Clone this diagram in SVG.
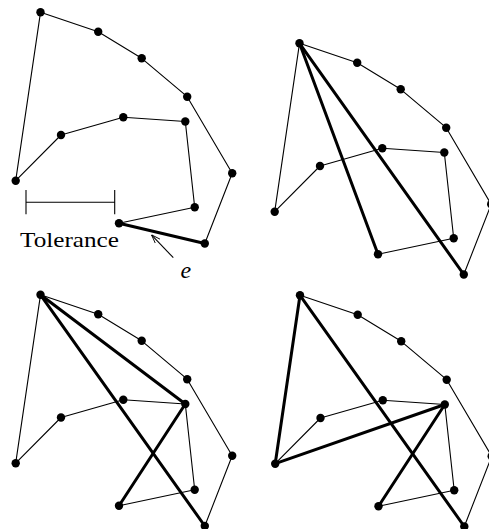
<svg xmlns="http://www.w3.org/2000/svg" width="489" height="529" viewBox="0 0 489 529">
<defs>
<style>
.thin{fill:none;stroke:#000;stroke-width:1.1;stroke-linejoin:round}
.thick{fill:none;stroke:#000;stroke-width:3;stroke-linecap:round}
.dot{fill:#000}
.lbl{font-family:"Liberation Serif","Times New Roman",serif;fill:#000}
</style>
<marker id="open" viewBox="0 0 10 10" refX="10" refY="5" markerWidth="9" markerHeight="9" markerUnits="userSpaceOnUse" orient="auto">
<path d="M0,1.5 L10,5 L0,8.5" fill="none" stroke="#000" stroke-width="1"/>
</marker>
</defs>
<rect width="489" height="529" fill="#fff"/>

<!-- Panel 1 -->
<g id="panel1">
<g id="p1-connectors">
<polyline class="thin" points="119,223.3 194.7,207.3 185.3,121.5 123.3,117.3 61,135 15.7,180.7 40.5,12.3 98.2,31.7 141.7,58.3 187.2,96.7 232.2,173.3 204.8,243.5"/>
<line class="thick" x1="119" y1="223.3" x2="204.8" y2="243.5"/>
</g>
<g id="p1-n1"><circle class="dot" cx="40.5" cy="12.3" r="4.2"/></g>
<g id="p1-n2"><circle class="dot" cx="98.2" cy="31.7" r="4.2"/></g>
<g id="p1-n3"><circle class="dot" cx="141.7" cy="58.3" r="4.2"/></g>
<g id="p1-n4"><circle class="dot" cx="187.2" cy="96.7" r="4.2"/></g>
<g id="p1-n5"><circle class="dot" cx="232.2" cy="173.3" r="4.2"/></g>
<g id="p1-n6"><circle class="dot" cx="204.8" cy="243.5" r="4.2"/></g>
<g id="p1-n7"><circle class="dot" cx="119" cy="223.3" r="4.2"/></g>
<g id="p1-n8"><circle class="dot" cx="194.7" cy="207.3" r="4.2"/></g>
<g id="p1-n9"><circle class="dot" cx="185.3" cy="121.5" r="4.2"/></g>
<g id="p1-n10"><circle class="dot" cx="123.3" cy="117.3" r="4.2"/></g>
<g id="p1-n11"><circle class="dot" cx="61" cy="135" r="4.2"/></g>
<g id="p1-n12"><circle class="dot" cx="15.7" cy="180.7" r="4.2"/></g>
<g id="tolerance">
<path class="thin" d="M26,202.3 H114.7 M26,190 V214.3 M114.7,190 V214.3"/>
<text class="lbl" x="20" y="246.7" font-size="22" textLength="99" lengthAdjust="spacingAndGlyphs">Tolerance</text>
</g>
<g id="edge-label">
<line class="thin" x1="173.3" y1="257.7" x2="151.5" y2="234.8" marker-end="url(#open)"/>
<text class="lbl" x="180.5" y="278" font-size="24" font-style="italic">e</text>
</g>
</g>

<!-- Panel 2 -->
<g id="panel2" transform="translate(259,31)">
<g id="p2-connectors">
<polyline class="thin" points="204.8,243.5 232.2,173.3 187.2,96.7 141.7,58.3 98.2,31.7 40.5,12.3 15.7,180.7 61,135 123.3,117.3 185.3,121.5 194.7,207.3 119,223.3"/>
<line class="thick" x1="40.5" y1="12.3" x2="119" y2="223.3"/>
<line class="thick" x1="40.5" y1="12.3" x2="204.8" y2="243.5"/>
</g>
<g id="p2-n1"><circle class="dot" cx="40.5" cy="12.3" r="4.2"/></g>
<g id="p2-n2"><circle class="dot" cx="98.2" cy="31.7" r="4.2"/></g>
<g id="p2-n3"><circle class="dot" cx="141.7" cy="58.3" r="4.2"/></g>
<g id="p2-n4"><circle class="dot" cx="187.2" cy="96.7" r="4.2"/></g>
<g id="p2-n5"><circle class="dot" cx="232.2" cy="173.3" r="4.2"/></g>
<g id="p2-n6"><circle class="dot" cx="204.8" cy="243.5" r="4.2"/></g>
<g id="p2-n7"><circle class="dot" cx="119" cy="223.3" r="4.2"/></g>
<g id="p2-n8"><circle class="dot" cx="194.7" cy="207.3" r="4.2"/></g>
<g id="p2-n9"><circle class="dot" cx="185.3" cy="121.5" r="4.2"/></g>
<g id="p2-n10"><circle class="dot" cx="123.3" cy="117.3" r="4.2"/></g>
<g id="p2-n11"><circle class="dot" cx="61" cy="135" r="4.2"/></g>
<g id="p2-n12"><circle class="dot" cx="15.7" cy="180.7" r="4.2"/></g>
</g>

<!-- Panel 3 -->
<g id="panel3" transform="translate(0,282.5)">
<g id="p3-connectors">
<polyline class="thin" points="204.8,243.5 232.2,173.3 187.2,96.7 141.7,58.3 98.2,31.7 40.5,12.3 15.7,180.7 61,135 123.3,117.3 185.3,121.5 194.7,207.3 119,223.3"/>
<line class="thick" x1="40.5" y1="12.3" x2="185.3" y2="121.5"/>
<line class="thick" x1="185.3" y1="121.5" x2="119" y2="223.3"/>
<line class="thick" x1="40.5" y1="12.3" x2="204.8" y2="243.5"/>
</g>
<g id="p3-n1"><circle class="dot" cx="40.5" cy="12.3" r="4.2"/></g>
<g id="p3-n2"><circle class="dot" cx="98.2" cy="31.7" r="4.2"/></g>
<g id="p3-n3"><circle class="dot" cx="141.7" cy="58.3" r="4.2"/></g>
<g id="p3-n4"><circle class="dot" cx="187.2" cy="96.7" r="4.2"/></g>
<g id="p3-n5"><circle class="dot" cx="232.2" cy="173.3" r="4.2"/></g>
<g id="p3-n6"><circle class="dot" cx="204.8" cy="243.5" r="4.2"/></g>
<g id="p3-n7"><circle class="dot" cx="119" cy="223.3" r="4.2"/></g>
<g id="p3-n8"><circle class="dot" cx="194.7" cy="207.3" r="4.2"/></g>
<g id="p3-n9"><circle class="dot" cx="185.3" cy="121.5" r="4.2"/></g>
<g id="p3-n10"><circle class="dot" cx="123.3" cy="117.3" r="4.2"/></g>
<g id="p3-n11"><circle class="dot" cx="61" cy="135" r="4.2"/></g>
<g id="p3-n12"><circle class="dot" cx="15.7" cy="180.7" r="4.2"/></g>
</g>

<!-- Panel 4 -->
<g id="panel4" transform="translate(259.5,283)">
<g id="p4-connectors">
<polyline class="thin" points="204.8,243.5 232.2,173.3 187.2,96.7 141.7,58.3 98.2,31.7 40.5,12.3 15.7,180.7 61,135 123.3,117.3 185.3,121.5 194.7,207.3 119,223.3"/>
<line class="thick" x1="40.5" y1="12.3" x2="15.7" y2="180.7"/>
<line class="thick" x1="15.7" y1="180.7" x2="185.3" y2="121.5"/>
<line class="thick" x1="185.3" y1="121.5" x2="119" y2="223.3"/>
<line class="thick" x1="40.5" y1="12.3" x2="204.8" y2="243.5"/>
</g>
<g id="p4-n1"><circle class="dot" cx="40.5" cy="12.3" r="4.2"/></g>
<g id="p4-n2"><circle class="dot" cx="98.2" cy="31.7" r="4.2"/></g>
<g id="p4-n3"><circle class="dot" cx="141.7" cy="58.3" r="4.2"/></g>
<g id="p4-n4"><circle class="dot" cx="187.2" cy="96.7" r="4.2"/></g>
<g id="p4-n5"><circle class="dot" cx="232.2" cy="173.3" r="4.2"/></g>
<g id="p4-n6"><circle class="dot" cx="204.8" cy="243.5" r="4.2"/></g>
<g id="p4-n7"><circle class="dot" cx="119" cy="223.3" r="4.2"/></g>
<g id="p4-n8"><circle class="dot" cx="194.7" cy="207.3" r="4.2"/></g>
<g id="p4-n9"><circle class="dot" cx="185.3" cy="121.5" r="4.2"/></g>
<g id="p4-n10"><circle class="dot" cx="123.3" cy="117.3" r="4.2"/></g>
<g id="p4-n11"><circle class="dot" cx="61" cy="135" r="4.2"/></g>
<g id="p4-n12"><circle class="dot" cx="15.7" cy="180.7" r="4.2"/></g>
</g>
</svg>
